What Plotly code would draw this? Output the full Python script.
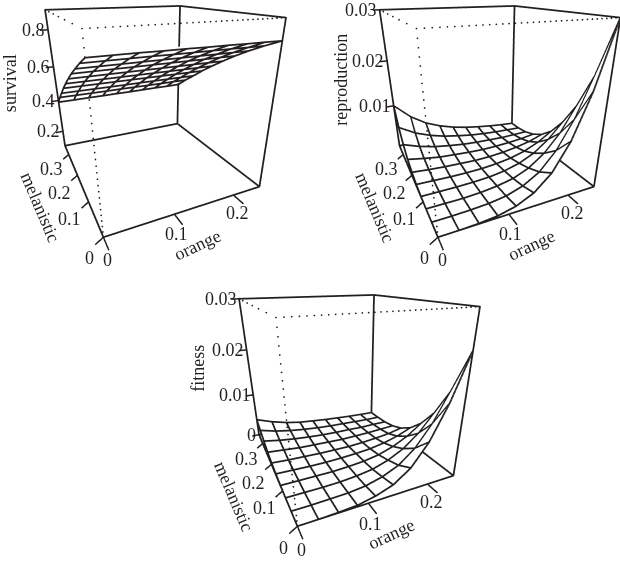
import numpy as np
import plotly.graph_objects as go

orange = [0, 0.0278, 0.0556, 0.0833, 0.1111, 0.1389, 0.1667, 0.1944, 0.2222, 0.25]
melanistic = [0, 0.0389, 0.0778, 0.1167, 0.1556, 0.1944, 0.2333, 0.2722, 0.3111, 0.35]

# one row per melanistic value, one column per orange value
survival = [
    [0.815, 0.815, 0.815, 0.814, 0.814, 0.813, 0.813, 0.812, 0.812, 0.811],
    [0.778, 0.778, 0.778, 0.778, 0.777, 0.777, 0.777, 0.777, 0.776, 0.776],
    [0.738, 0.738, 0.738, 0.738, 0.738, 0.738, 0.738, 0.738, 0.738, 0.738],
    [0.697, 0.697, 0.697, 0.697, 0.697, 0.697, 0.697, 0.697, 0.697, 0.697],
    [0.652, 0.652, 0.652, 0.652, 0.652, 0.652, 0.652, 0.652, 0.652, 0.652],
    [0.605, 0.605, 0.605, 0.605, 0.605, 0.605, 0.605, 0.605, 0.605, 0.605],
    [0.556, 0.556, 0.556, 0.556, 0.556, 0.556, 0.556, 0.556, 0.556, 0.556],
    [0.502, 0.502, 0.502, 0.502, 0.502, 0.503, 0.503, 0.503, 0.503, 0.503],
    [0.449, 0.449, 0.449, 0.449, 0.450, 0.450, 0.450, 0.450, 0.451, 0.451],
    [0.390, 0.390, 0.391, 0.391, 0.392, 0.392, 0.393, 0.394, 0.394, 0.395],
]
reproduction = [
    [0.0000, 0.0000, 0.0001, 0.0004, 0.0012, 0.0028, 0.0058, 0.0110, 0.0190, 0.0300],
    [0.0000, 0.0000, 0.0001, 0.0003, 0.0008, 0.0019, 0.0039, 0.0075, 0.0129, 0.0204],
    [0.0000, 0.0000, 0.0000, 0.0002, 0.0006, 0.0013, 0.0027, 0.0051, 0.0087, 0.0138],
    [0.0001, 0.0001, 0.0001, 0.0002, 0.0004, 0.0009, 0.0018, 0.0033, 0.0057, 0.0090],
    [0.0004, 0.0003, 0.0002, 0.0002, 0.0003, 0.0006, 0.0011, 0.0020, 0.0034, 0.0054],
    [0.0010, 0.0007, 0.0005, 0.0004, 0.0003, 0.0004, 0.0007, 0.0012, 0.0019, 0.0030],
    [0.0020, 0.0014, 0.0009, 0.0007, 0.0005, 0.0004, 0.0005, 0.0007, 0.0010, 0.0015],
    [0.0037, 0.0025, 0.0017, 0.0012, 0.0008, 0.0006, 0.0005, 0.0004, 0.0005, 0.0006],
    [0.0062, 0.0042, 0.0029, 0.0020, 0.0014, 0.0009, 0.0006, 0.0004, 0.0003, 0.0002],
    [0.0100, 0.0068, 0.0046, 0.0032, 0.0022, 0.0015, 0.0010, 0.0006, 0.0003, 0.0001],
]
fitness = [
    [0.0000, 0.0000, 0.0001, 0.0003, 0.0010, 0.0022, 0.0046, 0.0088, 0.0152, 0.0235],
    [0.0000, 0.0000, 0.0001, 0.0002, 0.0006, 0.0015, 0.0030, 0.0057, 0.0099, 0.0156],
    [0.0000, 0.0000, 0.0000, 0.0001, 0.0004, 0.0009, 0.0020, 0.0037, 0.0063, 0.0100],
    [0.0001, 0.0001, 0.0001, 0.0001, 0.0003, 0.0006, 0.0012, 0.0023, 0.0039, 0.0062],
    [0.0003, 0.0002, 0.0001, 0.0001, 0.0002, 0.0004, 0.0007, 0.0013, 0.0022, 0.0035],
    [0.0006, 0.0004, 0.0003, 0.0002, 0.0002, 0.0002, 0.0004, 0.0007, 0.0011, 0.0018],
    [0.0011, 0.0008, 0.0005, 0.0004, 0.0003, 0.0002, 0.0003, 0.0004, 0.0006, 0.0008],
    [0.0019, 0.0013, 0.0009, 0.0006, 0.0004, 0.0003, 0.0003, 0.0002, 0.0003, 0.0003],
    [0.0028, 0.0019, 0.0013, 0.0009, 0.0006, 0.0004, 0.0003, 0.0002, 0.0001, 0.0001],
    [0.0039, 0.0027, 0.0018, 0.0012, 0.0009, 0.0006, 0.0004, 0.0002, 0.0001, 0.0000],
]

orange_ticks = [0, 0.1, 0.2]
orange_tick_labels = ["0", "0.1", "0.2"]
melanistic_ticks = [0, 0.1, 0.2, 0.3]
melanistic_tick_labels = ["0", "0.1", "0.2", "0.3"]
survival_ticks = [0.2, 0.4, 0.6, 0.8]
survival_tick_labels = ["0.2", "0.4", "0.6", "0.8"]
reproduction_ticks = [0.01, 0.02, 0.03]
reproduction_tick_labels = ["0.01", "0.02", "0.03"]
fitness_ticks = [0, 0.01, 0.02, 0.03]
fitness_tick_labels = ["0", "0.01", "0.02", "0.03"]

W, H = 620, 562
INK = "#231f20"
FONT = dict(family="Liberation Serif", size=18, color=INK)
X_MAX, Y_MAX = orange[-1], melanistic[-1]
PAD = 0.15  # axis ranges are widened so the ticks are not clipped

EYE = dict(x=-0.7486, y=-1.7411, z=0.6413)
CENTER = dict(x=-0.1463, y=-0.4823, z=0)
UP = dict(x=-0.0050, y=0, z=1)
SCENE_H = 258


def grid_lines(z):
    xs, ys, zs = [], [], []
    for j, m in enumerate(melanistic):
        xs += orange + [None]
        ys += [m] * len(orange) + [None]
        zs += list(z[j]) + [None]
    for i, o in enumerate(orange):
        xs += [o] * len(melanistic) + [None]
        ys += melanistic + [None]
        zs += [row[i] for row in z] + [None]
    return xs, ys, zs


def add_panel(fig, name, z, z_lo, z_hi, z_ticks, z_labels, title, y0, x_min, x_max,
              title_shift, sheet_offset, dot_gap=None):
    span = z_hi - z_lo
    scene = name

    # white sheet next to the wires, on the side away from the viewer
    sheet = np.array(z) + sheet_offset * span
    fig.add_trace(go.Surface(
        x=orange, y=melanistic, z=sheet, scene=scene, showscale=False, hoverinfo="skip",
        colorscale=[[0, "white"], [1, "white"]],
        lighting=dict(ambient=1, diffuse=0, specular=0, roughness=1, fresnel=0),
    ))

    gx, gy, gz = grid_lines(z)
    fig.add_trace(go.Scatter3d(x=gx, y=gy, z=gz, mode="lines", scene=scene, hoverinfo="skip",
                               line=dict(color=INK, width=3.5)))

    # solid box edges
    bx = [0, X_MAX, X_MAX, 0, 0, None, 0, 0, None, X_MAX, X_MAX, None, X_MAX, X_MAX, 0]
    by = [0, 0, Y_MAX, Y_MAX, 0, None, Y_MAX, Y_MAX, None, 0, 0, None, 0, Y_MAX, Y_MAX]
    bz = [z_lo, z_lo, z_lo, z_lo, z_lo, None, z_lo, z_hi, None, z_lo, z_hi, None, z_hi, z_hi, z_hi]
    bx += [None, X_MAX, X_MAX]
    by += [None, Y_MAX, Y_MAX]
    bz += [None, z_lo, z_hi]
    fig.add_trace(go.Scatter3d(x=bx, y=by, z=bz, mode="lines", scene=scene, hoverinfo="skip",
                               line=dict(color=INK, width=3.5)))

    # dotted edges at the corner nearest the viewer
    dz = np.linspace(z_lo, z_hi, 30)
    if dot_gap is not None:
        dz = dz[(dz < dot_gap[0]) | (dz > dot_gap[1])]
    dx = np.concatenate([np.zeros(len(dz)), np.linspace(0, X_MAX, 35), np.zeros(7)])
    dy = np.concatenate([np.zeros(len(dz)), np.zeros(35), np.linspace(0, Y_MAX, 7)])
    dzs = np.concatenate([dz, np.full(35, z_hi), np.full(7, z_hi)])
    fig.add_trace(go.Scatter3d(x=dx, y=dy, z=dzs, mode="markers", scene=scene, hoverinfo="skip",
                               marker=dict(color=INK, size=1, line=dict(width=0))))

    # tick marks
    tx, ty, tz = [], [], []
    for v in orange_ticks:
        tx += [v, v, None]
        ty += [0, -0.03, None]
        tz += [z_lo, z_lo, None]
    for v in melanistic_ticks:
        tx += [0, -0.011, None]
        ty += [v, v, None]
        tz += [z_lo, z_lo - 0.03 * span, None]
    for v in z_ticks:
        tx += [0, -0.013, None]
        ty += [Y_MAX, Y_MAX, None]
        tz += [v, v, None]
    fig.add_trace(go.Scatter3d(x=tx, y=ty, z=tz, mode="lines", scene=scene, hoverinfo="skip",
                               line=dict(color=INK, width=3)))

    notes = []
    for v, s, dxs, dys in zip(orange_ticks, orange_tick_labels, [4, 2, 4], [-23, -20, -18]):
        notes.append(dict(x=v, y=0, z=z_lo, text=s, showarrow=False, xanchor="center", yanchor="middle",
                          xshift=dxs, yshift=dys, font=FONT))
    for v, s, dxs, dys in zip(melanistic_ticks, melanistic_tick_labels, [-14, -19, -18, -17], [-21, -17, -18, -15]):
        notes.append(dict(x=0, y=v, z=z_lo, text=s, showarrow=False, xanchor="center", yanchor="middle",
                          xshift=dxs, yshift=dys, font=FONT))
    for v, s in zip(z_ticks, z_labels):
        notes.append(dict(x=0, y=Y_MAX, z=v, text=s, showarrow=False, xanchor="right", yanchor="middle",
                          xshift=-1, font=FONT))
    notes.append(dict(x=0.125, y=0, z=z_lo, text="orange", showarrow=False, textangle=-25,
                      xshift=7, yshift=-36, font=FONT))
    notes.append(dict(x=0, y=0.175, z=z_lo, text="melanistic", showarrow=False, textangle=67,
                      xshift=-40, yshift=-26, font=FONT))
    notes.append(dict(x=0, y=Y_MAX, z=(z_lo + z_hi) / 2, text=title, showarrow=False, textangle=-90,
                      xshift=title_shift[0], yshift=title_shift[1], font=FONT))

    hidden = dict(visible=False)
    fig.update_layout({scene: dict(
        domain=dict(x=[x_min / W, x_max / W], y=[1 - (y0 + SCENE_H) / H, 1 - y0 / H]),
        xaxis=dict(hidden, range=[-PAD * X_MAX, (1 + PAD) * X_MAX]),
        yaxis=dict(hidden, range=[-PAD * Y_MAX, (1 + PAD) * Y_MAX]),
        zaxis=dict(hidden, range=[z_lo - PAD * span, z_hi + PAD * span]),
        aspectmode="manual",
        aspectratio=dict(x=1 + 2 * PAD, y=1.0868 * (1 + 2 * PAD), z=0.9991 * (1 + 2 * PAD)),
        camera=dict(eye=EYE, center=CENTER, up=UP),
        annotations=notes,
    )})


fig = go.Figure()
add_panel(fig, "scene", survival, 0.1, 0.9, survival_ticks, survival_tick_labels, "survival",
          0, 0, 324.24, (-46, 1), 0.012, dot_gap=(0.68, 0.80))
add_panel(fig, "scene2", reproduction, 0, 0.03, reproduction_ticks, reproduction_tick_labels, "reproduction",
          0, 373.24, 620, (-50, 4), -0.006)
add_panel(fig, "scene3", fitness, 0, 0.03, fitness_ticks, fitness_tick_labels, "fitness",
          289.3, 196.42, 516.42, (-52, 5), -0.006)
fig.update_layout(width=W, height=H, margin=dict(l=0, r=0, t=0, b=0), showlegend=False,
                  paper_bgcolor="white")
fig.write_html("out.html", post_script="document.body.style.margin='0'", config={"displayModeBar": False})
